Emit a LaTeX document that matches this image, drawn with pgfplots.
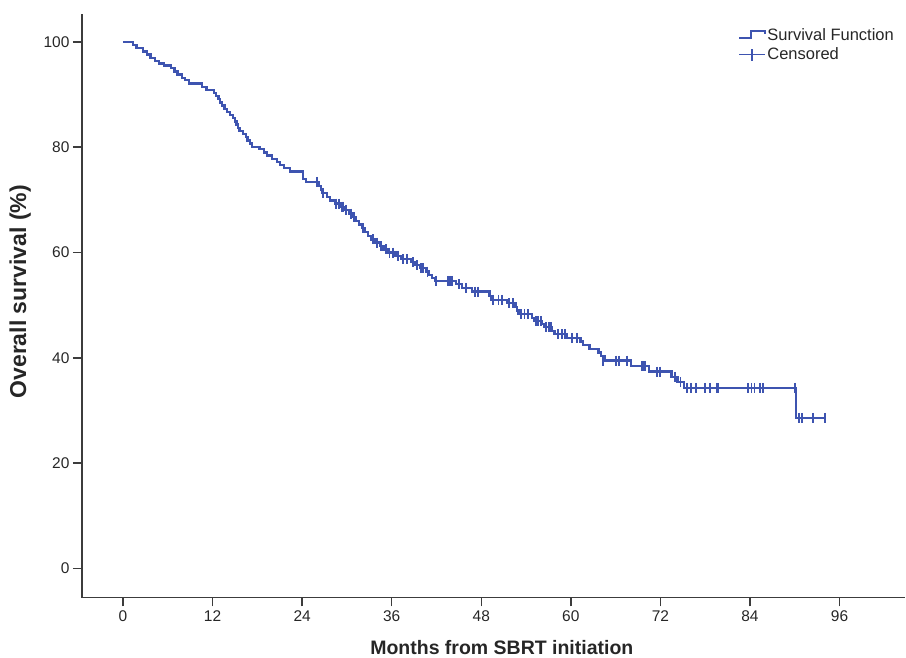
\documentclass[border=0pt]{standalone}
\usepackage{fontspec}
\setmainfont{Liberation Sans}
\usepackage{pgfplots}
\pgfplotsset{compat=1.18}

\definecolor{kmblue}{RGB}{62,84,176}
\definecolor{axisgray}{RGB}{60,60,60}

% survival steps: month, survival (%) after the drop
\pgfplotstableread{
t s
0 100
1.3 99.4
1.8 98.8
2.7 98.2
3.2 97.6
3.7 97.0
4.3 96.4
4.8 95.9
5.5 95.5
6.4 95.0
6.9 94.4
7.3 93.8
7.9 93.2
8.3 92.7
8.8 92.1
10.6 91.5
11.2 90.9
12.2 90.3
12.5 89.7
12.8 89.1
13.0 88.5
13.3 87.9
13.6 87.3
13.9 86.7
14.3 86.1
14.7 85.5
15.0 84.9
15.2 84.3
15.4 83.7
15.6 83.1
16.1 82.5
16.5 81.9
16.7 81.3
17.0 80.7
17.3 80.1
18.3 79.6
18.9 79.0
19.3 78.4
20.0 77.8
20.6 77.2
21.0 76.6
21.6 76.0
22.4 75.4
24.1 74.0
24.5 73.4
26.3 72.7
26.5 72.0
26.7 71.3
27.3 70.6
27.7 69.9
28.4 69.3
29.2 68.7
29.7 68.1
30.3 67.4
30.7 66.7
31.2 66.0
31.6 65.3
32.0 64.6
32.4 63.9
32.8 63.2
33.2 62.5
33.8 61.9
34.4 61.2
34.9 60.6
35.5 60.0
36.5 59.4
37.2 58.8
38.6 58.2
39.2 57.6
39.8 57.0
40.6 56.4
41.0 55.8
41.4 55.2
41.8 54.6
44.6 54.0
45.4 53.3
46.8 52.6
49.1 51.7
49.3 51.0
51.4 50.4
52.6 49.7
52.8 49.0
53.0 48.3
54.8 47.6
55.1 47.0
56.1 46.4
56.4 45.8
57.5 45.1
57.8 44.5
59.5 43.8
61.3 43.1
61.6 42.4
62.5 41.7
63.7 41.0
64.0 40.3
64.5 39.5
68.1 38.5
70.5 37.4
73.5 36.4
74.3 35.4
75.2 34.3
90.2 28.6
94.2 28.6
}\survival

% censored observations
\pgfplotstableread{
t s
26.0 73.4
26.8 71.3
28.5 69.3
28.9 69.3
29.3 68.7
29.5 68.7
29.9 68.1
30.5 67.4
31.0 66.7
32.2 64.6
33.5 62.5
34.0 61.9
34.6 61.2
35.2 60.6
35.7 60.0
36.2 60.0
36.8 59.4
37.5 58.8
38.0 58.8
38.9 58.2
39.4 57.6
39.9 57.0
40.2 57.0
40.8 56.4
41.9 54.6
43.5 54.6
43.8 54.6
44.1 54.6
45.0 54.0
46.0 53.3
47.2 52.6
47.6 52.6
49.6 51.0
50.3 51.0
50.8 51.0
51.7 50.4
52.3 50.4
53.3 48.3
53.8 48.3
54.3 48.3
55.3 47.0
55.6 47.0
56.0 47.0
56.7 45.8
57.1 45.8
57.3 45.8
58.3 44.5
58.8 44.5
59.2 44.5
60.2 43.8
60.8 43.8
64.3 39.5
66.1 39.5
66.5 39.5
67.5 39.5
69.5 38.5
69.7 38.5
69.9 38.5
71.5 37.4
71.9 37.4
73.9 36.4
74.7 35.4
75.6 34.3
76.1 34.3
76.8 34.3
78.0 34.3
78.6 34.3
79.5 34.3
79.7 34.3
83.7 34.3
84.2 34.3
84.6 34.3
85.3 34.3
85.7 34.3
90.0 34.3
90.6 28.6
91.0 28.6
92.4 28.6
94.0 28.6
}\censored

\begin{document}
\begin{tikzpicture}
\begin{axis}[
  name=ax,
  scale only axis, width=824pt, height=584pt,
  xmin=-5.5, xmax=104.8, ymin=-5.5, ymax=105.3,
  axis x line*=bottom, axis y line*=left,
  axis line style={axisgray, line width=1.5pt},
  xtick={0,12,...,96}, ytick={0,20,...,100},
  minor tick num=0,
  tick align=outside, major tick length=9pt,
  tick style={axisgray, line width=1.5pt},
  tick label style={font=\fontsize{15.5}{18}\selectfont, text=black!85},
  /pgf/number format/assume math mode=true,
  xticklabel style={yshift=-1pt},
  xlabel={\bfseries Months from SBRT initiation},
  ylabel={\bfseries Overall survival (\%)},
  xlabel style={font=\fontsize{19.5}{23}\selectfont, text=black!85,
    at={(axis description cs:0.51,-0.0856)}, anchor=center},
  ylabel style={font=\fontsize{23}{26}\selectfont, text=black!85,
    at={(axis description cs:-0.075,0.524)}, anchor=center},
  legend style={at={(axis description cs:0.797,0.978)}, anchor=north west,
    draw=none, fill=none, inner sep=0pt, row sep=3pt,
    font=\fontsize{16.5}{19}\selectfont, text=black!85,
    nodes={inner sep=1.5pt}},
  legend cell align=left,
]
\addplot[const plot, kmblue, line width=2.3pt,
  legend image code/.code={
    \draw[kmblue, line width=1.6pt] (0pt,-3pt) -- (12pt,-3pt) -- (12pt,4pt) -- (26pt,4pt) -- (26pt,1pt);}]
  table[x=t, y=s] {\survival};
\addlegendentry{Survival Function}
\addplot[only marks, kmblue, mark=|, mark size=5pt,
  mark options={line width=1.8pt},
  legend image code/.code={
    \draw[kmblue, line width=1.6pt] (0pt,0pt) -- (26pt,0pt);
    \draw[kmblue, line width=1.6pt] (13pt,-6pt) -- (13pt,6pt);}]
  table[x=t, y=s] {\censored};
\addlegendentry{Censored}
\end{axis}
\path ([xshift=-82pt,yshift=-60pt]ax.south west) rectangle ([yshift=14pt]ax.north east);
\end{tikzpicture}
\end{document}
